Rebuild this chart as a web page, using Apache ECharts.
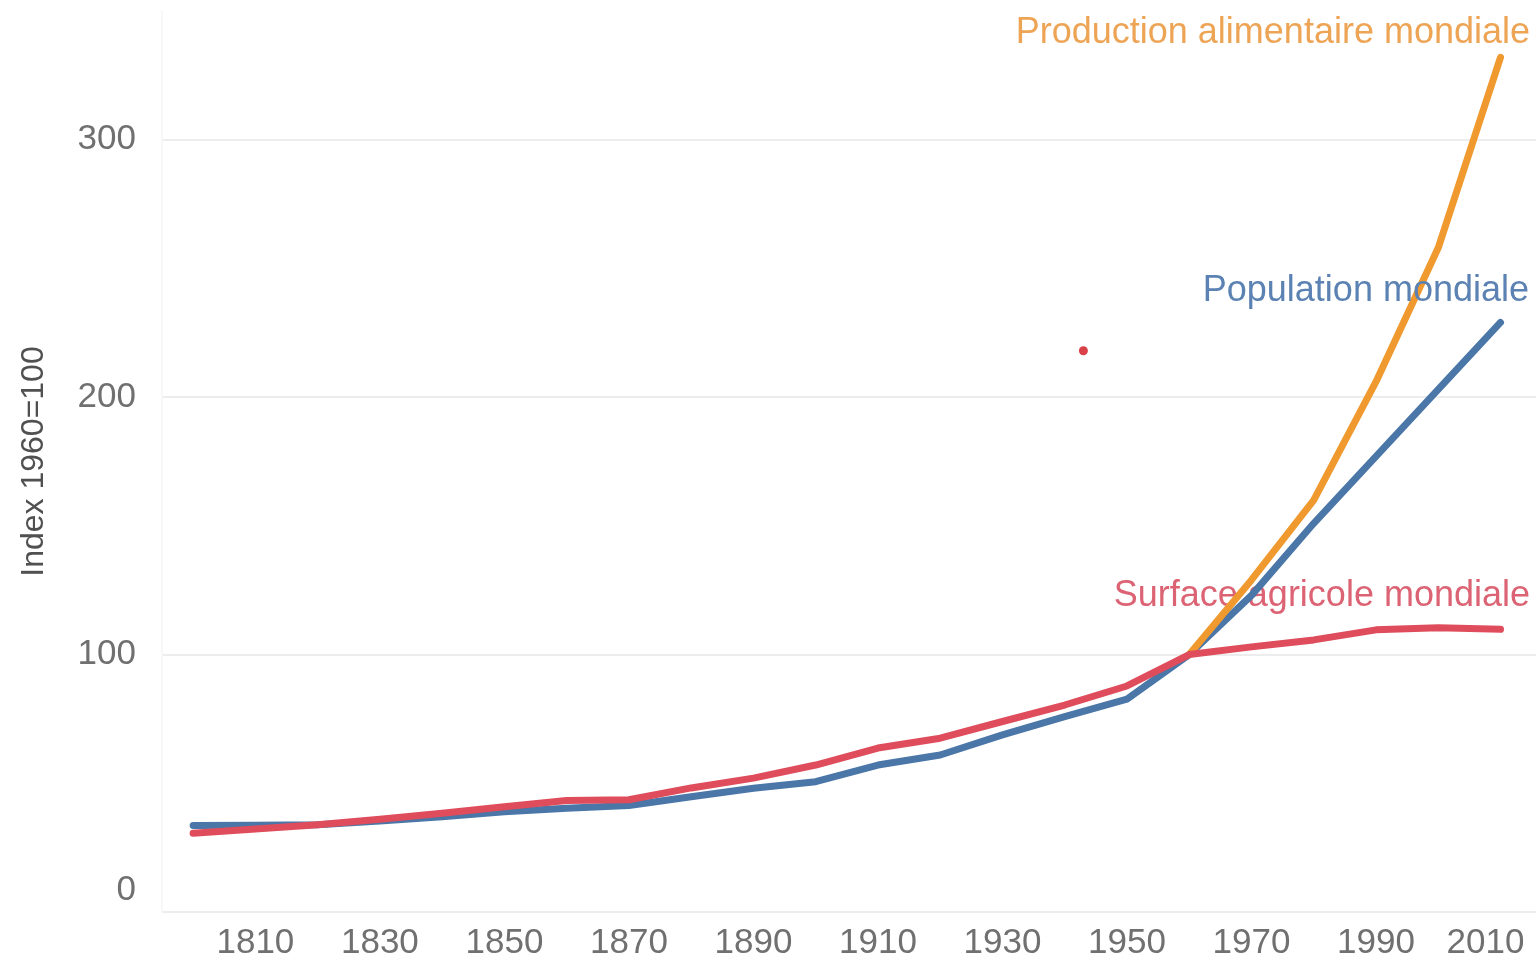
<!DOCTYPE html>
<html>
<head>
<meta charset="utf-8">
<script src="https://cdn.jsdelivr.net/npm/echarts@6/dist/echarts.min.js"></script>
<style>
html,body{margin:0;padding:0;background:#fff;}
#chart{width:1536px;height:962px;}
</style>
</head>
<body>
<div id="chart"></div>
<script>
const years = [1800,1810,1820,1830,1840,1850,1860,1870,1880,1890,1900,1910,1920,1930,1940,1950,1960,1970,1980,1990,2000,2010];
const population = [33.6,33.7,33.9,35.3,37.0,38.9,40.3,41.4,44.8,48.1,50.6,57.1,61.0,68.8,75.9,82.7,100,123,151,177,203,229];
const surface = [30.6,32.2,33.9,36.0,38.4,40.9,43.3,43.6,48.2,52.0,57.1,63.7,67.5,74.0,80.4,87.8,100,103,105.7,109.6,110.4,109.8];
const prodYears = [1960,1970,1980,1990,2000,2010];
const production = [100,129,160,206,258,332];
const xTickLabels = [1810,1830,1850,1870,1890,1910,1930,1950,1970,1990,2010];
const yTicks = [0,100,200,300];
const strayDot = [[1943,218]];

const labelProd = 'Production alimentaire mondiale';
const labelPop = 'Population mondiale';
const labelSurf = 'Surface agricole mondiale';

const FONT = 'Liberation Sans, Arial, sans-serif';
const chart = echarts.init(document.getElementById('chart'));

const pair = (xs, ys) => xs.map((x, i) => [x, ys[i]]);

chart.setOption({
  animation: false,
  backgroundColor: '#ffffff',
  grid: {left: 162, right: 0, top: 11, bottom: 50, containLabel: false, outerBoundsMode: 'none'},
  xAxis: {
    type: 'value',
    min: 1795,
    max: 2015.7,
    axisLine: {show: false},
    axisTick: {show: false},
    splitLine: {show: false},
    axisLabel: {
      customValues: xTickLabels,
      color: '#707070',
      fontFamily: FONT,
      fontSize: 35,
      margin: 14,
      formatter: function (v) { return v === 2010 ? '{e|2010}' : String(v); },
      rich: {e: {color: '#707070', fontFamily: FONT, fontSize: 35, padding: [0, 30, 0, 0]}}
    }
  },
  yAxis: {
    type: 'value',
    min: 0,
    max: 350,
    interval: 100,
    name: 'Index 1960=100',
    nameLocation: 'middle',
    nameGap: 112,
    nameTextStyle: {color: '#505050', fontFamily: FONT, fontSize: 32},
    axisLine: {show: true, lineStyle: {color: '#f8f8f8', width: 2}},
    axisTick: {show: false},
    splitLine: {show: true, showMaxLine: false, lineStyle: {color: '#ededed', width: 2}},
    axisLabel: {
      showMaxLabel: false,
      color: '#707070',
      fontFamily: FONT,
      fontSize: 35,
      margin: 26,
      formatter: function (v) { return v === 0 ? '{z|0}' : String(v); },
      rich: {z: {color: '#707070', fontFamily: FONT, fontSize: 35, padding: [0, 0, 44, 0]}}
    }
  },
  series: [
    {
      name: labelPop, type: 'line', data: pair(years, population), showSymbol: false,
      lineStyle: {color: '#4a76a8', width: 7, cap: 'round', join: 'round'}, z: 2
    },
    {
      name: labelProd, type: 'line', data: pair(prodYears, production), showSymbol: false,
      lineStyle: {color: '#ef992e', width: 7, cap: 'round', join: 'round'}, z: 3
    },
    {
      name: labelSurf, type: 'line', data: pair(years, surface), showSymbol: false,
      lineStyle: {color: '#df4d5c', width: 7, cap: 'round', join: 'round'}, z: 4
    },
    {
      type: 'scatter', data: strayDot, symbolSize: 9,
      itemStyle: {color: '#d0101a'}, z: 5
    }
  ],
  graphic: [
    {type: 'text', x: 1530, y: 33, z: 10, style: {text: labelProd, align: 'right', verticalAlign: 'middle', fill: '#eda455', fontFamily: FONT, fontSize: 36}},
    {type: 'text', x: 1529, y: 291, z: 10, style: {text: labelPop, align: 'right', verticalAlign: 'middle', fill: '#5b82b3', fontFamily: FONT, fontSize: 36}},
    {type: 'text', x: 1530, y: 596, z: 1, style: {text: labelSurf, align: 'right', verticalAlign: 'middle', fill: '#dc6373', fontFamily: FONT, fontSize: 36}}
  ]
});
</script>
</body>
</html>
